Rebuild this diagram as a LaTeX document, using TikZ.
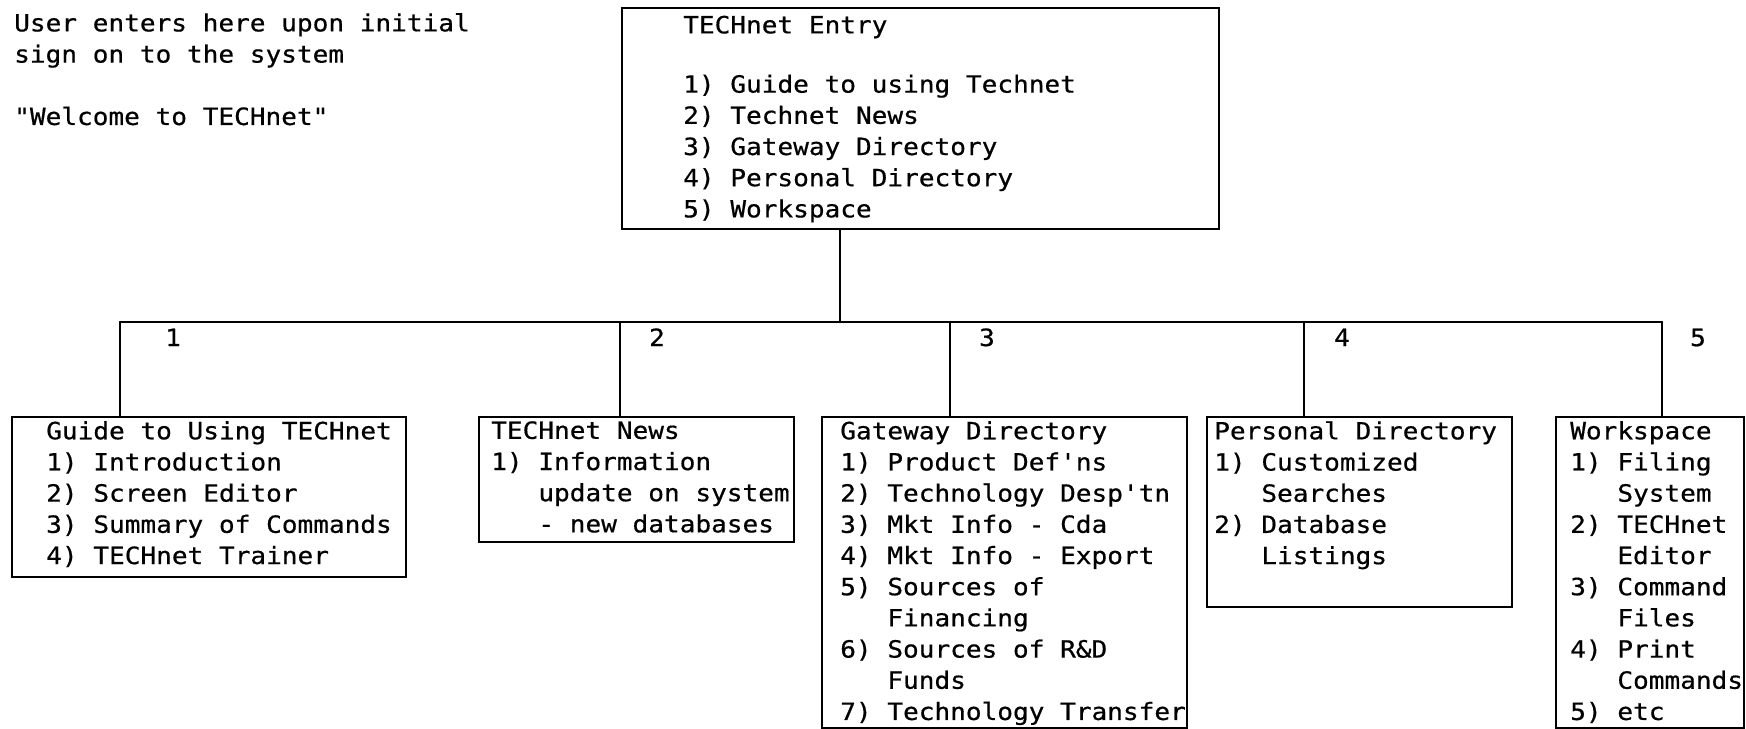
\documentclass[tikz,border=0pt]{standalone}
\usepackage{fontspec}
\newfontfamily\typewriter[FakeStretch=1.1, FakeBold=0.6]{DejaVu Sans Mono}
\usetikzlibrary{calc}
\tikzset{bx/.style={draw, line width=1.4pt, anchor=north west, inner sep=0pt}}
\tikzset{t/.style={anchor=north west, inner sep=0pt, align=left, execute at begin node=\strut, font=\typewriter\fontsize{13.5}{17.75}\selectfont}}
\newcommand{\ind}{\phantom{1) }}

\begin{document}
\begin{tikzpicture}[x=0.02cm, y=-0.02cm, line width=1.4pt, line cap=round]
  \useasboundingbox (0,0) rectangle (1746,728);

  % entry screen
  \node[t] (note) at (13,12) {User enters here upon initial\\sign on to the system\\[17.75pt]"Welcome to TECHnet"};
  \node[bx, minimum width=11.94cm, minimum height=4.42cm] (entry) at (621,7) {};
  \node[t] (entrytxt) at (682,14.5) {TECHnet Entry\\[16pt]
    1) Guide to using Technet\\
    2) Technet News\\
    3) Gateway Directory\\
    4) Personal Directory\\
    5) Workspace};

  % menu boxes
  \node[bx, minimum width=7.88cm, minimum height=3.2cm] (guide) at (11,416) {};
  \node[t] (guidetxt) at (45,420) {Guide to Using TECHnet\\
    1) Introduction\\
    2) Screen Editor\\
    3) Summary of Commands\\
    4) TECHnet Trainer};

  \node[bx, minimum width=6.3cm, minimum height=2.5cm] (news) at (478,416) {};
  \node[t] (newstxt) at (490,420) {TECHnet News\\
    1) Information\\
    \ind update on system\\
    \ind - new databases};

  \node[bx, minimum width=7.3cm, minimum height=6.22cm] (gate) at (821,416) {};
  \node[t] (gatetxt) at (839,420) {Gateway Directory\\
    1) Product Def'ns\\
    2) Technology Desp'tn\\
    3) Mkt Info - Cda\\
    4) Mkt Info - Export\\
    5) Sources of\\
    \ind Financing\\
    6) Sources of R\&D\\
    \ind Funds\\
    7) Technology Transfer};

  \node[bx, minimum width=6.1cm, minimum height=3.8cm] (pers) at (1206,416) {};
  \node[t] (perstxt) at (1213,420) {Personal Directory\\
    1) Customized\\
    \ind Searches\\
    2) Database\\
    \ind Listings};

  \node[bx, minimum width=3.76cm, minimum height=6.22cm] (work) at (1555,416) {};
  \node[t] (worktxt) at (1569,420) {Workspace\\
    1) Filing\\
    \ind System\\
    2) TECHnet\\
    \ind Editor\\
    3) Command\\
    \ind Files\\
    4) Print\\
    \ind Commands\\
    5) etc};

  % tree lines
  \coordinate (j) at (840,322);
  \coordinate (b1) at (120,322);
  \coordinate (b2) at (620,322);
  \coordinate (b3) at (950,322);
  \coordinate (b4) at (1304,322);
  \coordinate (b5) at (1662,322);
  \draw (entry.south -| j) -- (j);
  \draw (b1) -- (b5);
  \foreach \b/\n in {b1/guide, b2/news, b3/gate, b4/pers, b5/work}
    \draw (\b) -- (\b |- \n.north);

  % choice numbers
  \node[t, anchor=base] (n1) at (173,346) {1};
  \node[t, anchor=base] (n2) at (657,346) {2};
  \node[t, anchor=base] (n3) at (987,346) {3};
  \node[t, anchor=base] (n4) at (1342,346) {4};
  \node[t, anchor=base] (n5) at (1698,346) {5};
\end{tikzpicture}
\end{document}
